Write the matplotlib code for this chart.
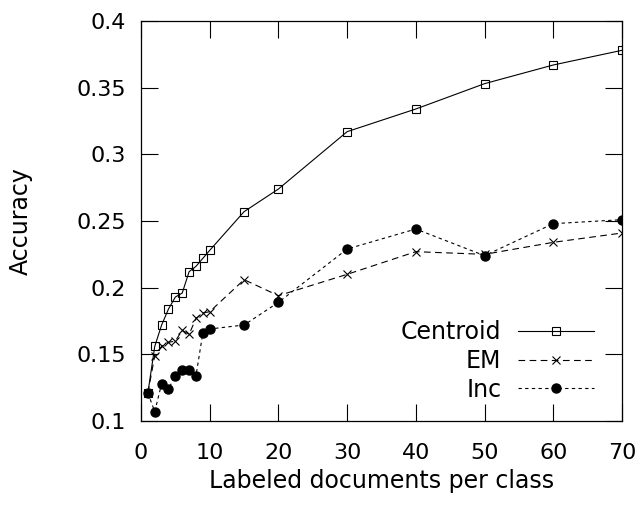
import matplotlib.pyplot as plt

# labeled documents per class
x = [1, 2, 3, 4, 5, 6, 7, 8, 9, 10, 15, 20, 30, 40, 50, 60, 70]

centroid = [0.121, 0.156, 0.172, 0.184, 0.193, 0.196, 0.212, 0.216, 0.222, 0.228,
            0.257, 0.274, 0.317, 0.334, 0.353, 0.367, 0.378]
em = [0.121, 0.149, 0.156, 0.159, 0.160, 0.168, 0.165, 0.177, 0.181, 0.182,
      0.206, 0.194, 0.210, 0.227, 0.225, 0.234, 0.241]
inc = [0.121, 0.107, 0.128, 0.124, 0.134, 0.138, 0.138, 0.134, 0.166, 0.169,
       0.172, 0.189, 0.229, 0.244, 0.224, 0.248, 0.251]

xticks = [0, 10, 20, 30, 40, 50, 60, 70]
yticks = [0.1, 0.15, 0.2, 0.25, 0.3, 0.35, 0.4]
ytick_labels = ['0.1', '0.15', '0.2', '0.25', '0.3', '0.35', '0.4']

plt.rcParams['font.family'] = 'DejaVu Sans'
plt.rcParams['font.size'] = 17

fig = plt.figure(figsize=(6.43, 5.07), dpi=100)
ax = fig.add_axes([0.2193, 0.1696, 0.9673 - 0.2193, 0.9586 - 0.1696])

ax.plot(x, centroid, color='black', lw=0.8, ls='-', marker='s', ms=5.6,
        mfc='none', mec='black', mew=0.8, label='Centroid')
ax.plot(x, em, color='black', lw=0.8, ls=(0, (6, 4)), marker='x', ms=5.8,
        mew=0.8, label='EM')
ax.plot(x, inc, color='black', lw=0.8, ls=(0, (3, 3)), marker='o', ms=6.5,
        mfc='black', mec='black', label='Inc')

ax.set_xlim(0, 70)
ax.set_ylim(0.1, 0.4)
ax.set_xticks(xticks)
ax.set_yticks(yticks)
ax.set_yticklabels(ytick_labels)
ax.tick_params(direction='in', length=12, width=0.8, top=True, right=True,
               labelsize=16)
ax.tick_params(axis='x', pad=16)
ax.tick_params(axis='y', pad=11)
for s in ax.spines.values():
    s.set_linewidth(0.9)

ax.set_xlabel('Labeled documents per class')
ax.set_ylabel('Accuracy')
ax.xaxis.set_label_coords(0.5, -0.12)
ax.yaxis.set_label_coords(-0.225, 0.5)

leg = ax.legend(loc='lower right', frameon=False, markerfirst=False,
                handlelength=3.2, handletextpad=0.7, labelspacing=0.2,
                bbox_to_anchor=(0.985, -0.005))
for t in leg.get_texts():
    t.set_ha('right')

fig.savefig('out.png', dpi=100)
